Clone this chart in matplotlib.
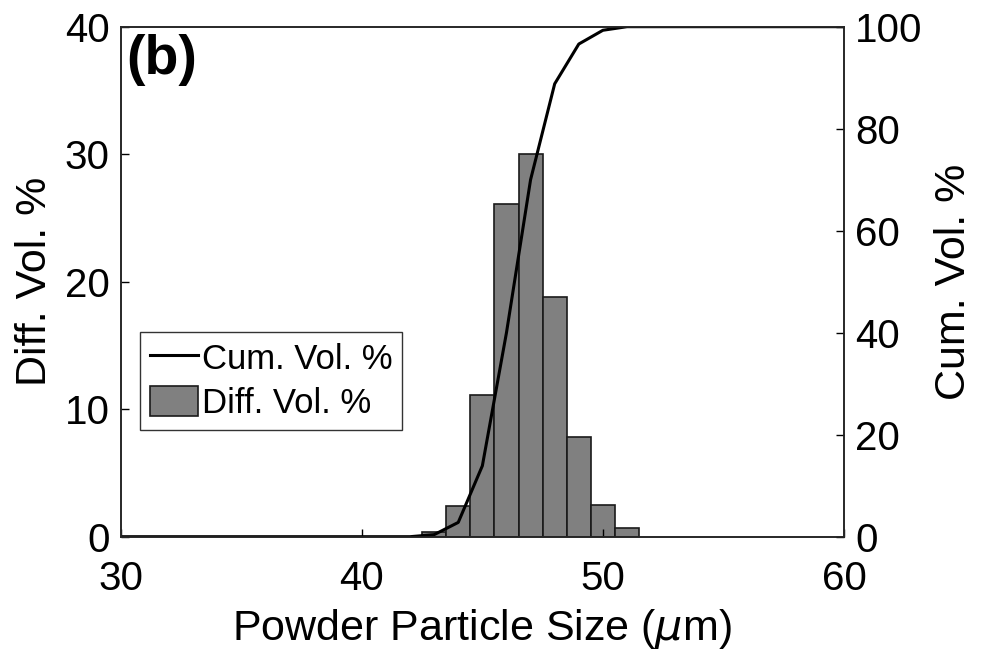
import matplotlib.pyplot as plt

plt.rcParams['font.family'] = ['Liberation Sans', 'DejaVu Sans']

# particle size bins (um), bin centers
sizes = [43, 44, 45, 46, 47, 48, 49, 50, 51]
diff_vol = [0.4, 2.4, 11.1, 26.1, 30.0, 18.8, 7.8, 2.5, 0.7]

# cumulative volume curve
cum_x = [30, 35, 40, 42, 43, 44, 45, 46, 47, 48, 49, 50, 51, 55, 60]
cum_vol = [0, 0, 0, 0, 0.4, 2.8, 13.9, 40.0, 70.0, 88.8, 96.6, 99.3, 100, 100, 100]

x_ticks = [30, 40, 50, 60]
left_ticks = [0, 10, 20, 30, 40]
right_ticks = [0, 20, 40, 60, 80, 100]


def main():
    fig = plt.figure(figsize=(9.82, 6.59), dpi=100)
    ax = fig.add_axes([0.1229, 0.1856, 0.7366, 0.7739])
    bars = ax.bar(sizes, diff_vol, width=1.0, color='#808080', edgecolor='#1a1a1a',
                  linewidth=1.2, label='Diff. Vol. %')
    ax.set_xlim(30, 60)
    ax.set_ylim(0, 40)
    ax.set_xticks(x_ticks)
    ax.set_yticks(left_ticks)
    ax.tick_params(direction='in', labelsize=29, length=6, width=1, pad=8)
    ax.tick_params(axis='x', pad=17)
    ax.set_xlabel(r'Powder Particle Size ($\mu$m)', fontsize=31, labelpad=6)
    ax.set_ylabel('Diff. Vol. %', fontsize=31, labelpad=7)

    ax2 = ax.twinx()
    line, = ax2.plot(cum_x, cum_vol, color='black', linewidth=2.2, label='Cum. Vol. %')
    ax2.set_ylim(0, 100)
    ax2.set_yticks(right_ticks)
    ax2.tick_params(direction='in', labelsize=29, length=6, width=1, pad=8)
    ax2.set_ylabel('Cum. Vol. %', fontsize=31, labelpad=8)

    for a in (ax, ax2):
        for s in a.spines.values():
            s.set_linewidth(1.2)
            s.set_color('#262626')

    leg = ax2.legend([line, bars], ['Cum. Vol. %', 'Diff. Vol. %'],
                     loc='upper left', bbox_to_anchor=(140 / 982, 1 - 332 / 659),
                     bbox_transform=fig.transFigure, fontsize=25, frameon=True,
                     fancybox=False, edgecolor='#333333', framealpha=1,
                     handlelength=1.4, handleheight=0.95, handletextpad=0.1,
                     borderpad=0.28, labelspacing=0.3, borderaxespad=0)
    leg.get_frame().set_linewidth(1.0)

    ax.text(0.008, 0.985, '(b)', transform=ax.transAxes, fontsize=40,
            fontweight='bold', va='top', ha='left')

    fig.savefig('out.png', dpi=100)


if __name__ == '__main__':
    main()
